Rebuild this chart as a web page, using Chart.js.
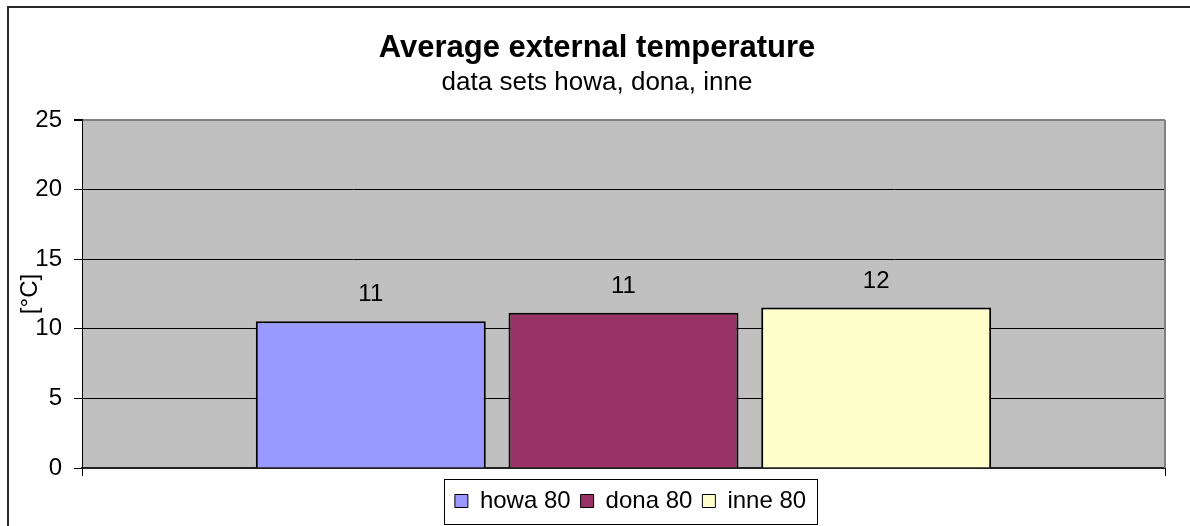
<!DOCTYPE html>
<html>
<head>
<meta charset="utf-8">
<script src="https://cdn.jsdelivr.net/npm/chart.js@4/dist/chart.umd.min.js"></script>
<style>
  html, body { margin: 0; padding: 0; background: #fff; }
  canvas { display: block; }
</style>
</head>
<body>
<canvas id="c" width="1190" height="526"></canvas>
<script>
// Series: one bar per data set, single category
const categories = [''];
const seriesNames = ['howa 80', 'dona 80', 'inne 80'];
const seriesValues = [10.55, 11.15, 11.53];
const seriesColors = ['#9999FF', '#993366', '#FFFFCC'];
const yTickValues = [0, 5, 10, 15, 20, 25];

const titleText = 'Average external temperature';
const subtitleText = 'data sets howa, dona, inne';
const yAxisTitle = '[°C]';

const FONT = "'Liberation Sans', Arial, sans-serif";

const datasets = seriesNames.map((name, i) => ({
  label: name,
  data: [seriesValues[i]],
  backgroundColor: seriesColors[i],
  borderColor: '#000',
  borderWidth: 2,
  categoryPercentage: 0.70,
  barPercentage: 0.91
}));

// Frame, plot background, value labels, legend box, box centering
const decor = {
  id: 'decor',
  afterLayout(chart) {
    const a = chart.chartArea;
    const shift = (box, cx) => {
      if (!box) return;
      const dx = cx - (box.left + box.right) / 2;
      box.left += dx; box.right += dx;
    };
    chart.boxes
      .filter(b => b !== chart.legend && b.options && b.options.position === 'top' && b.options.text !== undefined)
      .forEach(b => shift(b, 597));
    shift(chart.legend, (a.left + a.right) / 2 + 7);
  },
  beforeDraw(chart) {
    const ctx = chart.ctx;
    const a = chart.chartArea;
    ctx.save();
    ctx.fillStyle = '#fff';
    ctx.fillRect(0, 0, chart.width, chart.height);
    // outer frame
    ctx.strokeStyle = '#2a2a2a';
    ctx.lineWidth = 2;
    ctx.beginPath();
    ctx.moveTo(8, chart.height);
    ctx.lineTo(8, 7);
    ctx.lineTo(chart.width, 7);
    ctx.stroke();
    // plot area
    ctx.fillStyle = '#C0C0C0';
    ctx.fillRect(a.left, a.top, a.right - a.left, a.bottom - a.top);
    ctx.restore();
  },
  beforeDatasetsDraw(chart) {
    const ctx = chart.ctx;
    const a = chart.chartArea;
    ctx.save();
    ctx.strokeStyle = '#808080';
    ctx.lineWidth = 2;
    ctx.beginPath();
    ctx.moveTo(a.right, a.top);
    ctx.lineTo(a.right, a.bottom);
    ctx.stroke();
    ctx.restore();
  },
  afterDatasetsDraw(chart) {
    const ctx = chart.ctx;
    ctx.save();
    ctx.font = '24px ' + FONT;
    ctx.fillStyle = '#000';
    ctx.textAlign = 'center';
    ctx.textBaseline = 'alphabetic';
    chart.data.datasets.forEach((ds, i) => {
      const meta = chart.getDatasetMeta(i);
      meta.data.forEach((el, j) => {
        ctx.fillText(String(Math.round(ds.data[j])), el.x, el.y - 20);
      });
    });
    ctx.restore();
  },
  afterDraw(chart) {
    const lg = chart.legend;
    if (!lg || !lg.legendHitBoxes || !lg.legendHitBoxes.length) return;
    const hb = lg.legendHitBoxes;
    const first = hb[0], last = hb[hb.length - 1];
    const left = Math.round(first.left - 11) + 0.5;
    const right = Math.round(last.left + last.width + 11) + 0.5;
    const top = Math.round(lg.top) + 0.5;
    const ctx = chart.ctx;
    ctx.save();
    ctx.strokeStyle = '#000';
    ctx.lineWidth = 1;
    ctx.strokeRect(left, top, right - left, 45);
    ctx.restore();
  }
};

new Chart(document.getElementById('c'), {
  type: 'bar',
  data: { labels: categories, datasets },
  options: {
    responsive: false,
    animation: false,
    devicePixelRatio: 1,
    layout: { padding: { left: 8, right: 25, top: 8, bottom: 3 } },
    scales: {
      x: {
        grid: { display: true, drawOnChartArea: false, drawTicks: true, tickLength: 8, color: '#000', tickColor: '#000' },
        border: { display: true, color: '#222', width: 2 },
        ticks: { display: false },
        afterFit(s) { s.height = 11; }
      },
      y: {
        min: 0,
        max: 25,
        afterBuildTicks(s) { s.ticks = yTickValues.map(v => ({ value: v })); },
        grid: {
          color: c => (c.tick && c.tick.value === 25 ? '#808080' : '#000'),
          lineWidth: c => (c.tick && c.tick.value === 25 ? 2 : 1),
          tickColor: '#000',
          tickLength: 8
        },
        border: { display: true, color: '#000', width: 1 },
        ticks: { color: '#000', font: { family: FONT, size: 24 }, padding: 12 },
        title: {
          display: true,
          text: yAxisTitle,
          color: '#000',
          font: { family: FONT, size: 24 },
          padding: { top: 8, bottom: 0 }
        },
        afterFit(s) { s.width = 74; }
      }
    },
    plugins: {
      title: {
        display: true,
        text: titleText,
        color: '#000',
        font: { family: FONT, size: 31, weight: 'bold' },
        padding: { top: 22, bottom: 0 }
      },
      subtitle: {
        display: true,
        text: subtitleText,
        color: '#000',
        font: { family: FONT, size: 26 },
        padding: { top: 0, bottom: 21.6 }
      },
      legend: {
        position: 'bottom',
        labels: {
          color: '#000',
          font: { family: FONT, size: 24 },
          boxWidth: 13,
          boxHeight: 13,
          padding: 10,
          generateLabels(chart) {
            return Chart.defaults.plugins.legend.labels.generateLabels(chart)
              .map(l => Object.assign(l, { lineWidth: 1 }));
          }
        }
      },
      tooltip: { enabled: false }
    }
  },
  plugins: [decor]
});
</script>
</body>
</html>
